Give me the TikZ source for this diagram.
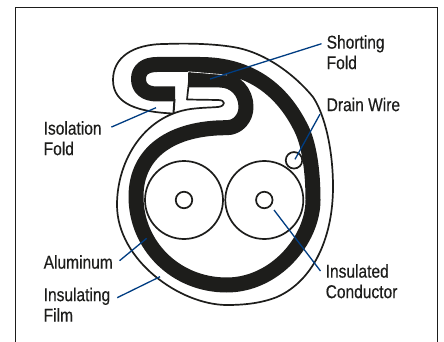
\documentclass[tikz,border=0pt]{standalone}
\usepackage{fontspec}
\setmainfont[FakeStretch=0.84,FakeBold=0.35]{Liberation Sans}
\definecolor{foilblack}{RGB}{29,29,27}
\definecolor{leaderblue}{RGB}{0,61,130}
\tikzset{
    lbl/.style={anchor=north west, align=left, inner xsep=5pt, inner ysep=0pt, text=foilblack,
        font=\fontsize{18.5}{20.5}\selectfont},
    leader/.style={draw=leaderblue, line width=1.3pt},
    filmline/.style={draw=foilblack, line width=1.7pt},
    wire/.style={draw=foilblack, line width=1.7pt, circle, fill=white, inner sep=0pt}
}
\begin{document}
\begin{tikzpicture}[x=1pt, y=-1pt]
    \useasboundingbox (0,0) rectangle (444,342);
    \fill[white] (0,0) rectangle (444,342);
    % frame
    \draw[foilblack, line width=1pt] (15,342) -- (15,7.5) -- (437.5,7.5) -- (437.5,342);
    % film outline
    \draw[filmline, line join=round] (173,113.5)
        .. controls (140,112) and (113,105) .. (113,80)
        .. controls (113,58) and (132,44) .. (165,44)
        .. controls (190,43) and (215,44) .. (233,47)
        .. controls (265,52) and (295,75) .. (313,97)
        .. controls (325,115) and (333,150) .. (333,187)
        .. controls (333,235) and (315,280) .. (277,297)
        .. controls (262,303) and (245,305) .. (227,305)
        .. controls (180,305) and (117,260) .. (117,205)
        .. controls (117,160) and (145,113) .. (195,108.5)
        .. controls (205,107.5) and (212,107.5) .. (218,107)
        .. controls (226,106) and (226,100) .. (218,100)
        -- (187,99.5) -- (190,72);
    \draw[foilblack, line width=2pt] (174.5,99) -- (173.5,113.5);
    % aluminum foil
    \draw[foilblack, line width=15pt, line join=round] (175,94) -- (157,94)
        .. controls (145,94) and (138.5,88) .. (138.5,79)
        .. controls (138.5,70) and (145,64.5) .. (157,64.5)
        -- (200,64.5)
        .. controls (250,64.5) and (283,90) .. (302,130)
        .. controls (309,145) and (313,170) .. (313,200)
        .. controls (313,240) and (275,285) .. (226.7,285)
        .. controls (175,285) and (136,245) .. (136,196.7)
        .. controls (136,152) and (172,127.7) .. (226.7,127.7)
        .. controls (238,127.7) and (246,118) .. (246,107)
        .. controls (246,92) and (235,80) .. (220,80)
        -- (188,80);
    \draw[white, line width=0.6pt] (188,71.7) -- (227,75);
    % conductors
    \foreach \i/\x in {1/184,2/264.3} {
        \node[wire, minimum size=78pt] (ins\i) at (\x,200) {};
        \node[wire, minimum size=16.5pt] (core\i) at (\x,200) {};
    }
    \node[wire, minimum size=16.5pt] (drain) at (294,160.3) {};
    % labels
    \node[lbl] (lblShort) at (321.5,35) {Shorting\\Fold};
    \node[lbl] (lblDrain) at (321.5,97.5) {Drain Wire};
    \node[lbl] (lblIso) at (38.5,121) {Isolation\\Fold};
    \node[lbl] (lblAlu) at (38.5,255) {Aluminum};
    \node[lbl] (lblFilm) at (38.5,287.5) {Insulating\\Film};
    \node[lbl] (lblCond) at (320.5,264) {Insulated\\Conductor};
    % leader ends
    \coordinate (endShort) at (210,79);
    \coordinate (endIso) at (156,107.7);
    \coordinate (endDrain) at (295,159.3);
    \coordinate (endAlu) at (146.7,238.3);
    \coordinate (endFilm) at (160,276.7);
    \coordinate (endCond) at (274,210);
    % leaders
    \draw[leader] (lblShort.166) -- (endShort);
    \draw[leader, shorten <=5pt] (lblIso.15) -- (endIso);
    \draw[leader, shorten <=3pt] (lblDrain.south west) -- (endDrain);
    \draw[leader, shorten <=2pt] (lblAlu.east) -- (endAlu);
    \draw[leader, shorten <=2pt] (lblFilm.9) -- (endFilm);
    \draw[leader] (lblCond.166) -- (endCond);
\end{tikzpicture}
\end{document}
